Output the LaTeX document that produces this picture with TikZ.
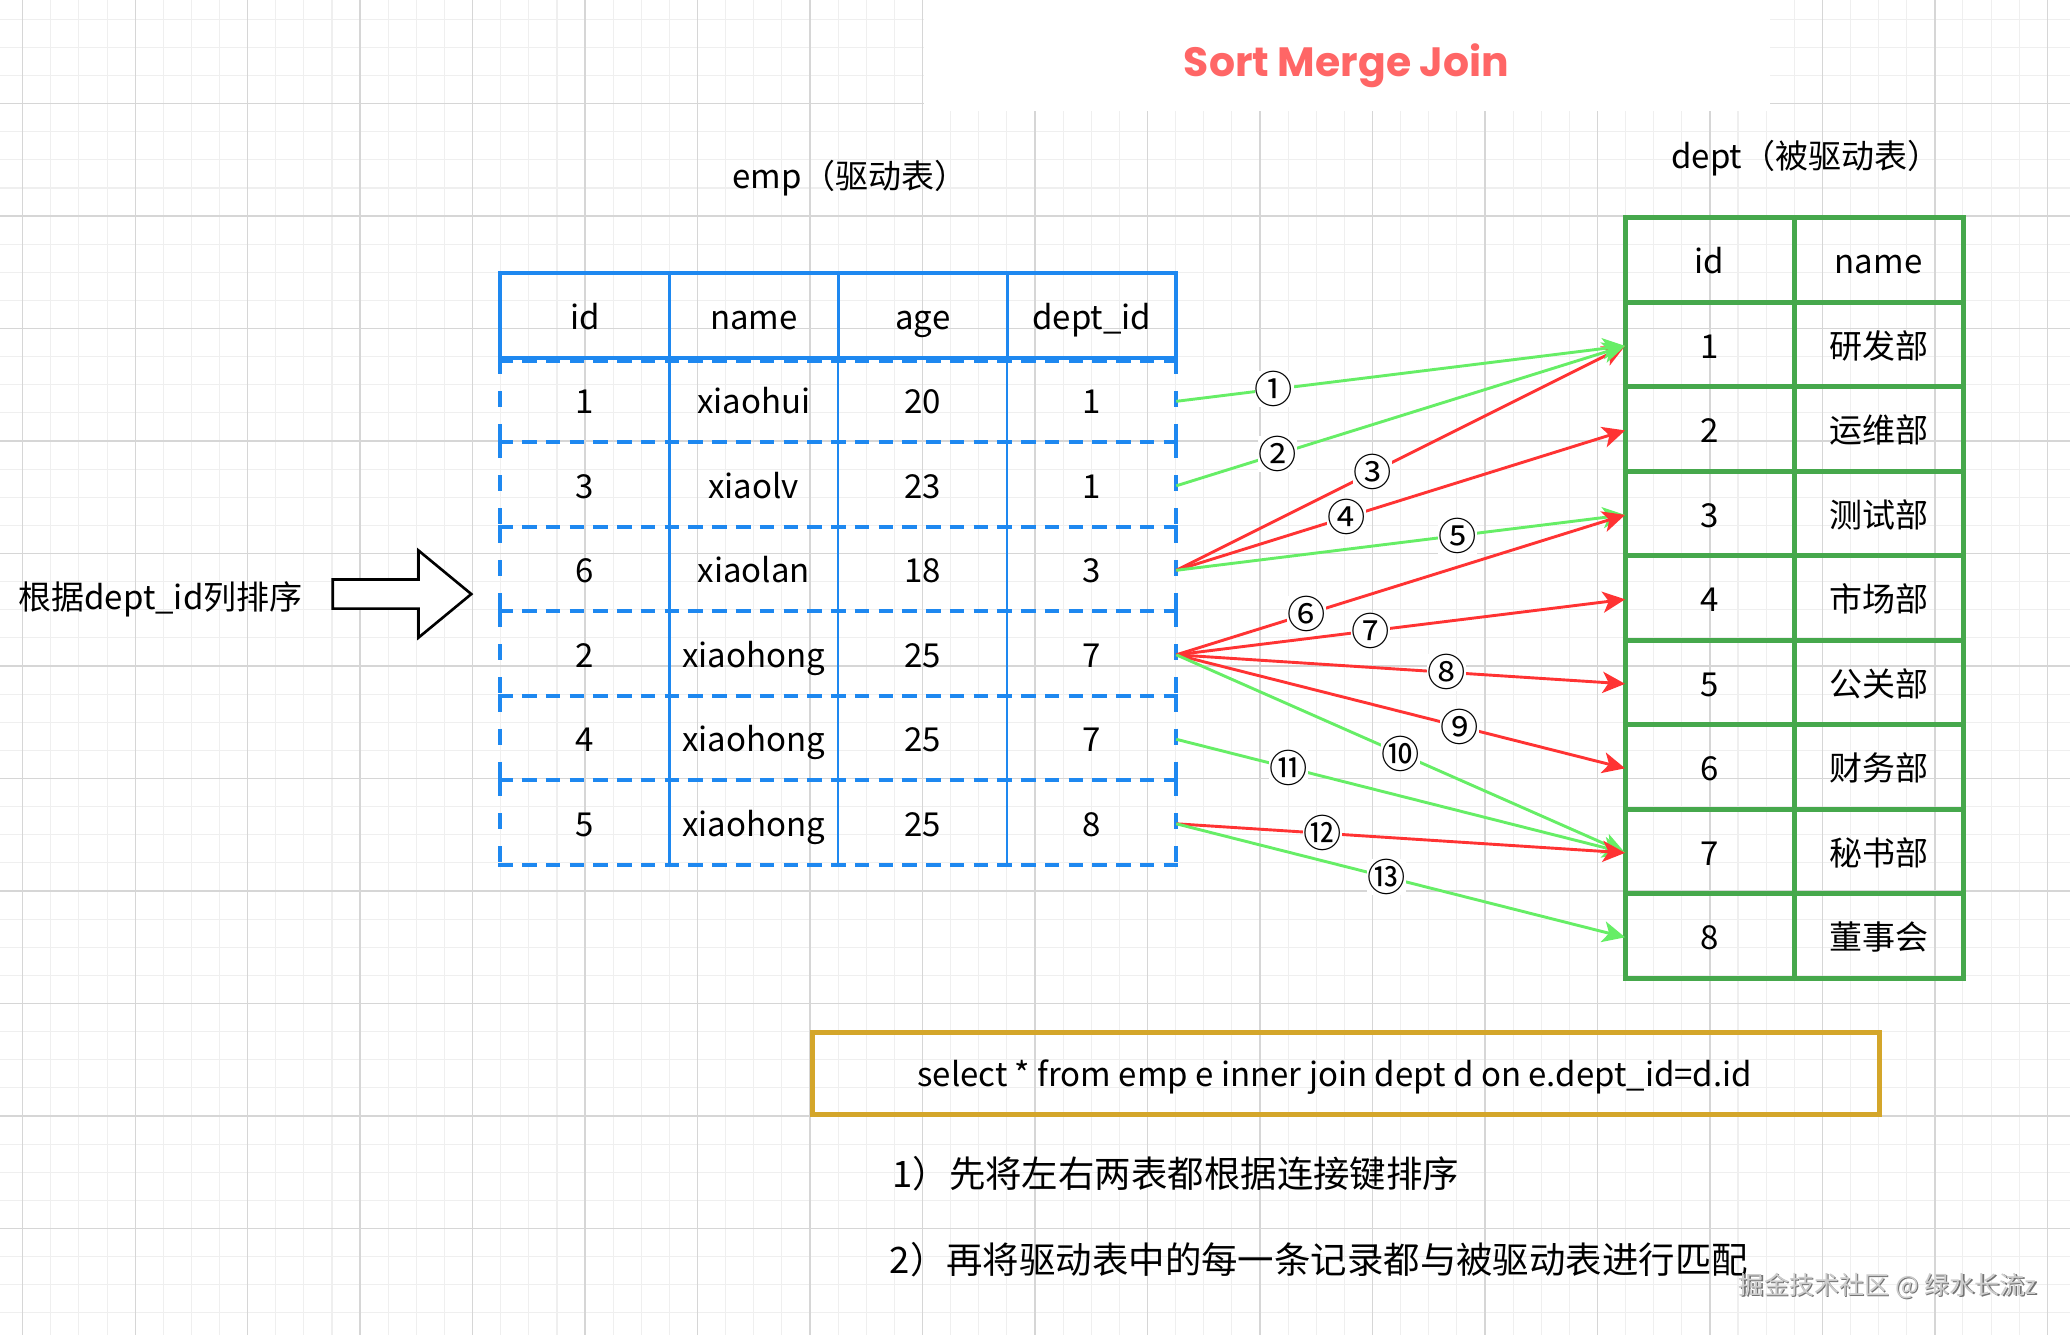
\documentclass[tikz,border=0pt]{standalone}
\usepackage{fontspec}
\setmainfont{Noto Sans CJK SC}
\newfontfamily\titlefont{Poppins}
\usetikzlibrary{arrows.meta}
\definecolor{empblue}{HTML}{1E88F0}
\definecolor{deptgreen}{HTML}{46A84C}
\definecolor{arrred}{HTML}{FF3333}
\definecolor{arrgreen}{HTML}{66EE66}
\definecolor{titlered}{HTML}{FF6666}
\definecolor{sqlgold}{HTML}{D4A62A}
\definecolor{minorgrid}{HTML}{EFEFEF}
\definecolor{majorgrid}{HTML}{D6D6D6}
\begin{document}
\begin{tikzpicture}[x=1pt,y=-1pt,
  cell/.style={minimum width=128pt,minimum height=64pt,inner sep=0pt,outer sep=0pt,
    font=\fontsize{25}{28}\selectfont,text height=21pt,text depth=2pt},
  plaintext/.style={inner sep=0pt,outer sep=0pt,font=\fontsize{25}{28}\selectfont},
  bigtext/.style={inner sep=0pt,outer sep=0pt,font=\fontsize{27.6}{30}\selectfont},
  bluesolid/.style={draw=empblue,line width=3pt},
  blueinner/.style={draw=empblue,line width=2.5pt},
  bluethin/.style={draw=empblue,line width=1.8pt},
  bluehdash/.style={draw=empblue,line width=3pt,dash pattern=on 11pt off 7pt},
  bluevdash/.style={draw=empblue,line width=3pt,dash pattern=on 12pt off 13pt},
  greenline/.style={draw=deptgreen,line width=3.8pt},
  conn/.style={line width=2.2pt,-{Stealth[length=17pt,width=16pt,inset=4.5pt]}},
  gconn/.style={conn,draw=arrgreen,fill=arrgreen},
  rconn/.style={conn,draw=arrred,fill=arrred},
  lbl/.style={fill=white,inner sep=0.3pt,font=\fontsize{29}{29}\selectfont,text=black}
]
\useasboundingbox (0,0) rectangle (1568,1011.2);
\fill[white] (0,0) rectangle (1568,1011.2);
% grid
\foreach \i in {0,...,73} \draw[minorgrid,line width=0.8pt] ({17.2+21.3*\i},0) -- ({17.2+21.3*\i},1011.2);
\foreach \j in {0,...,46} \draw[minorgrid,line width=0.8pt] (0,{14.6+21.3*\j}) -- (1568,{14.6+21.3*\j});
\foreach \i in {0,...,18} \draw[majorgrid,line width=1pt] ({17.2+85.2*\i},0) -- ({17.2+85.2*\i},1011.2);
\foreach \j in {0,...,10} \draw[majorgrid,line width=1pt] (0,{78.5+85.2*\j}) -- (1568,{78.5+85.2*\j});
\fill[white] (700,0) rectangle (1341,84);

% title
\node[inner sep=0pt,anchor=base,text=titlered,font=\titlefont\bfseries\fontsize{31}{34}\selectfont] (title) at (1020,58) {Sort Merge Join};

% labels
\node[plaintext,anchor=west] (emplabel) at (555,135) {emp（驱动表）};
\node[plaintext,anchor=west] (deptlabel) at (1266,120) {dept（被驱动表）};

% emp cells
\foreach \c/\t [count=\k] in {443/id,571/name,699/age,827/dept\_id}
  \node[cell] (e0\k) at (\c,240) {\t};
\foreach \r/\y/\a/\b/\cc/\d in {1/304/1/xiaohui/20/1,2/368/3/xiaolv/23/1,3/432/6/xiaolan/18/3,4/496/2/xiaohong/25/7,5/560/4/xiaohong/25/7,6/624/5/xiaohong/25/8}{
  \node[cell] (e\r1) at (443,\y) {\a};
  \node[cell] (e\r2) at (571,\y) {\b};
  \node[cell] (e\r3) at (699,\y) {\cc};
  \node[cell] (e\r4) at (827,\y) {\d};
}
% emp borders
\draw[bluesolid] (379,207) rectangle (891,271);
\foreach \x in {507,635,763} \draw[blueinner] (\x,207) -- (\x,271);
\foreach \x in {507,635,763} \draw[bluethin] (\x,271) -- (\x,655);
\foreach \y in {273.5,335,399,463,527,591,655} \draw[bluehdash] (377.5,\y) -- (892.5,\y);
\foreach \y in {271,335,399,463,527,591} {
  \draw[bluevdash] (379,\y) -- (379,\y+64);
  \draw[bluevdash] (891,\y) -- (891,\y+64);
}

% dept cells
\node[cell] (d01) at (1295,198) {id};
\node[cell] (d02) at (1423,198) {name};
\foreach \r/\n in {1/研发部,2/运维部,3/测试部,4/市场部,5/公关部,6/财务部,7/秘书部,8/董事会}{
  \node[cell] (d\r1) at (1295,{198+64*\r}) {\r};
  \node[cell] (d\r2) at (1423,{198+64*\r}) {\n};
}
\draw[greenline] (1231,165) rectangle (1487,741);
\draw[greenline] (1359,165) -- (1359,741);
\foreach \y in {229,293,357,421,485,549,613,677} \draw[greenline] (1231,\y) -- (1487,\y);

% connectors
\draw[rconn] (e34.east) -- node[lbl,pos=0.438] {③} (d11.west);
\draw[gconn] (e14.east) -- node[lbl,pos=0.218] {①} (d11.west);
\draw[gconn] (e24.east) -- node[lbl,pos=0.226] {②} (d11.west);
\draw[rconn] (e34.east) -- node[lbl,pos=0.379] {④} (d21.west);
\draw[gconn] (e34.east) -- node[lbl,pos=0.626] {⑤} (d31.west);
\draw[rconn] (e44.east) -- node[lbl,pos=0.291] {⑥} (d31.west);
\draw[rconn] (e44.east) -- node[lbl,pos=0.432] {⑦} (d41.west);
\draw[rconn] (e44.east) -- node[lbl,pos=0.603] {⑧} (d51.west);
\draw[rconn] (e44.east) -- node[lbl,pos=0.632] {⑨} (d61.west);
\draw[gconn] (e44.east) -- node[lbl,pos=0.5] {⑩} (d71.west);
\draw[gconn] (e54.east) -- node[lbl,pos=0.25] {⑪} (d71.west);
\draw[rconn] (e64.east) -- node[lbl,pos=0.326] {⑫} (d71.west);
\draw[gconn] (e64.east) -- node[lbl,pos=0.468] {⑬} (d81.west);

% left sort arrow and text
\node[plaintext,anchor=west] (sortlabel) at (14,454) {根据dept\_id列排序};
\draw[line width=2pt,fill=white,line join=miter] (252,439) -- (317,439) -- (317,417) -- (357,450) -- (317,483) -- (317,461) -- (252,461) -- cycle;

% SQL box
\node[draw=sqlgold,line width=3.5pt,minimum width=808pt,minimum height=62pt,inner sep=0pt] (sqlbox) at (1019.5,813) {};
\node[inner sep=0pt,font=\fontsize{25}{28}\selectfont] (sql) at (1011,816) {select * from emp e inner join dept d on e.dept\_id=d.id};

% notes
\node[bigtext,anchor=west] (note1) at (676,889) {1）先将左右两表都根据连接键排序};
\node[bigtext,anchor=west] (note2) at (674,954) {2）再将驱动表中的每一条记录都与被驱动表进行匹配};

% watermark
\node[inner sep=0pt,anchor=west,text=black!55,font=\fontsize{19}{20}\selectfont] (wmshadow) at (1318.2,975.2) {掘金技术社区 @ 绿水长流z};
\node[inner sep=0pt,anchor=west,text=black!20,font=\fontsize{19}{20}\selectfont] (wm) at (1317,974) {掘金技术社区 @ 绿水长流z};
\end{tikzpicture}
\end{document}
